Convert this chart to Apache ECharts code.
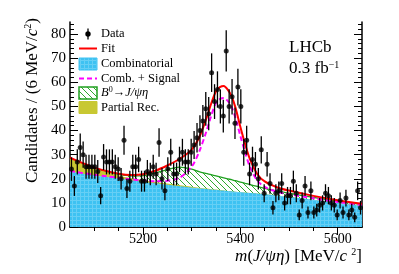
<!DOCTYPE html>
<html><head><meta charset="utf-8">
<script src="https://cdn.jsdelivr.net/npm/echarts@6/dist/echarts.min.js"></script>
<style>html,body{margin:0;padding:0;background:#fff}#c{width:399px;height:274px}</style>
</head><body><div id="c"></div>
<script>
// ---------- data ----------
const binCenters = [5053,5059,5065,5071,5077,5083,5089,5095,5101,5107,5113,5119,5125,5131,5137,5143,5149,5155,5161,5167,5173,5179,5185,5191,5197,5203,5209,5215,5221,5227,5233,5239,5245,5251,5257,5263,5269,5275,5281,5287,5293,5299,5305,5311,5317,5323,5329,5335,5341,5347,5353,5359,5365,5371,5377,5383,5389,5395,5401,5407,5413,5419,5425,5431,5437,5443,5449,5455,5461,5467,5473,5479,5485,5491,5497,5503,5509,5515,5521,5527,5533,5539,5545,5551,5557,5563,5569,5575,5581,5587,5593,5599,5605,5611,5617,5623,5629,5635,5641,5647];
const counts = [24,17,27,33,30,25,25,25,25,23, 13,29,27,27,27,25,24,20,36,16, 19,25,25,28,19,19,23,22,25,22, 35,20,15,24,31,22,22,28,31,27, 27,31,34,37,40,44,49,47,64,52, 57,50,46,73,50,54,43,58,50,31, 36,22,28,26,20,32,14,26,18,8, 14,15,18,10,13,13,19,14,5,11, 17,6,15,6,7,9,10,14,13,10, 9,5,11,6,12,5,7,4,15,8];
const fitMass = [5050,5075,5100,5125,5150,5175,5200,5225,5250,5275,5300,5315,5330,5340,5350,5358,5366,5374,5382,5390,5400,5410,5420,5435,5450,5475,5500,5550,5600,5650];
const combinatorial = [23.0,22.2,21.5,20.8,20.1,19.4,18.7,18.1,17.5,16.9,16.4,16.1,15.8,15.6,15.4,15.25,15.1,14.95,14.8,14.65,14.5,14.3,14.1,13.9,13.6,13.1,12.5,11.3,10.0,8.8];
const partialRecTop = [28.5,26.4,24.3,22.8,21.4,20.3,19.4,18.7,18.0,17.3,16.7,16.3,15.95,15.7,15.5,15.3,15.12,14.96,14.8,14.65,14.5,14.3,14.1,13.9,13.6,13.1,12.5,11.3,10.0,8.8];
const b0Top = [28.5,26.4,24.4,23.0,21.8,21.2,21.3,22.4,23.8,24.8,24.0,23.0,22.2,21.7,21.2,20.8,20.4,20.0,19.6,19.2,18.6,18.1,17.6,16.8,16.0,15.0,14.0,12.3,10.7,9.3];
const combPlusSignal = [23.2,22.4,21.7,21.0,20.4,19.8,19.3,19.0,19.2,20.4,25.0,31,39.5,46,51.5,53,53.5,52.3,49.8,45.3,37.8,30.8,24.8,19.2,16.6,14.6,13.6,11.9,10.4,9.1];
const fitTotal = [28.7,26.6,24.6,23.2,22.1,21.6,21.9,23.3,25.5,28.2,32.1,36.9,44.9,51.1,56.3,58.0,58.5,57.0,54.3,49.5,41.6,34.3,28.0,21.9,18.9,16.5,15.1,12.9,11.1,9.6];
const xTickLabels = [5200,5400,5600];
const xMinorTickValues = [5100,5150,5250,5300,5350,5450,5500,5550];
const yTickLabels = [0,10,20,30,40,50,60,70,80];

// ---------- helpers ----------
const FONT = 'Liberation Serif';
function pair(xs, ys){ return xs.map((x,i)=>[x, ys[i]]); }
function makeHatch(){
  const c=document.createElement('canvas'); c.width=6; c.height=6;
  const g=c.getContext('2d'); g.strokeStyle='#2ea82e'; g.lineWidth=1;
  g.beginPath(); g.moveTo(0,0); g.lineTo(6,6); g.moveTo(-3,3); g.lineTo(3,9); g.moveTo(3,-3); g.lineTo(9,3); g.stroke();
  return c;
}
function makeBlue(){
  const c=document.createElement('canvas'); c.width=4; c.height=4;
  const g=c.getContext('2d'); g.fillStyle='#3ec2f2'; g.fillRect(0,0,4,4);
  g.fillStyle='#66cff5'; g.fillRect(0,0,4,1); g.fillRect(0,0,1,4);
  return c;
}
const hatch = {image: makeHatch(), repeat:'repeat'};
const blue = {image: makeBlue(), repeat:'repeat'};
const yMinor = []; for(let v=2; v<85; v+=2){ if(v%10) yMinor.push(v); }

const chart = echarts.init(document.getElementById('c'), null, {renderer:'canvas'});
const baseX = {type:'value', min:5050, max:5650, splitLine:{show:false}};
const baseY = {type:'value', min:0, max:85, splitLine:{show:false}};
const frameLine = {show:true, lineStyle:{color:'#000', width:1.5}};
const tickStyle = {color:'#000', width:1};

chart.setOption({
  animation:false,
  grid:{left:70, right:37, top:22, bottom:47},
  xAxis:[
    Object.assign({}, baseX, {position:'bottom', axisLine:frameLine,
      axisTick:{show:true, inside:true, length:8, lineStyle:tickStyle, customValues:xTickLabels},
      axisLabel:{show:true, customValues:xTickLabels, formatter:(v)=>String(v), color:'#000', fontFamily:FONT, fontSize:14, margin:5}}),
    Object.assign({}, baseX, {position:'bottom', axisLine:{show:false},
      axisTick:{show:true, inside:true, length:4, lineStyle:tickStyle, customValues:xMinorTickValues},
      axisLabel:{show:false}}),
    Object.assign({}, baseX, {position:'top', axisLine:frameLine,
      axisTick:{show:true, inside:true, length:8, lineStyle:tickStyle, customValues:xTickLabels},
      axisLabel:{show:false}}),
    Object.assign({}, baseX, {position:'top', axisLine:{show:false},
      axisTick:{show:true, inside:true, length:4, lineStyle:tickStyle, customValues:xMinorTickValues},
      axisLabel:{show:false}})
  ],
  yAxis:[
    Object.assign({}, baseY, {position:'left', axisLine:frameLine,
      axisTick:{show:true, inside:true, length:8, lineStyle:tickStyle, customValues:yTickLabels},
      axisLabel:{show:true, customValues:yTickLabels, formatter:(v)=>String(v), color:'#000', fontFamily:FONT, fontSize:15, margin:4}}),
    Object.assign({}, baseY, {position:'left', axisLine:{show:false},
      axisTick:{show:true, inside:true, length:4, lineStyle:tickStyle, customValues:yMinor},
      axisLabel:{show:false}}),
    Object.assign({}, baseY, {position:'right', axisLine:frameLine,
      axisTick:{show:true, inside:true, length:8, lineStyle:tickStyle, customValues:yTickLabels},
      axisLabel:{show:false}}),
    Object.assign({}, baseY, {position:'right', axisLine:{show:false},
      axisTick:{show:true, inside:true, length:4, lineStyle:tickStyle, customValues:yMinor},
      axisLabel:{show:false}})
  ],
  series:[
    {name:'B0', type:'line', data:pair(fitMass,b0Top), smooth:0.3, symbol:'none', z:1,
      lineStyle:{color:'#1fa01f', width:1.3}, areaStyle:{color:hatch, opacity:1}},
    {name:'Partial Rec.', type:'line', data:pair(fitMass,partialRecTop), smooth:0.3, symbol:'none', z:2,
      lineStyle:{width:0}, areaStyle:{color:'#c8c832', opacity:1}},
    {name:'Combinatorial', type:'line', data:pair(fitMass,combinatorial), smooth:0.3, symbol:'none', z:3,
      lineStyle:{width:0}, areaStyle:{color:blue, opacity:1}},
    {name:'Comb. + Signal', type:'line', data:pair(fitMass,combPlusSignal), smooth:0.3, symbol:'none', z:4,
      lineStyle:{color:'#ff00ff', width:2, type:[5,3]}},
    {name:'Fit', type:'line', data:pair(fitMass,fitTotal), smooth:0.3, symbol:'none', z:5,
      lineStyle:{color:'#ff0000', width:2}},
    {name:'Errors', type:'custom', z:6,
      data: binCenters.map((m,i)=>[m, counts[i]-Math.sqrt(counts[i]), counts[i]+Math.sqrt(counts[i])]),
      encode:{x:0, y:[1,2]},
      renderItem:function(params, api){
        const a=api.coord([api.value(0), api.value(1)]);
        const b=api.coord([api.value(0), api.value(2)]);
        return {type:'line', shape:{x1:a[0],y1:a[1],x2:b[0],y2:b[1]}, style:{stroke:'#000', lineWidth:1.3}};
      }},
    {name:'Data', type:'scatter', z:7, data:pair(binCenters,counts), symbol:'circle', symbolSize:5,
      itemStyle:{color:'#000'}}
  ],
  graphic:[
    // legend
    {type:'line', shape:{x1:88,y1:28.5,x2:88,y2:39.5}, style:{stroke:'#000', lineWidth:1.3}},
    {type:'circle', shape:{cx:88,cy:34,r:2.7}, style:{fill:'#000'}},
    {type:'text', x:101, y:34, style:{text:'Data', font:'12.5px '+FONT, fill:'#000', verticalAlign:'middle'}},
    {type:'line', shape:{x1:79,y1:48.5,x2:97,y2:48.5}, style:{stroke:'#ff0000', lineWidth:2}},
    {type:'text', x:101, y:48.5, style:{text:'Fit', font:'12.5px '+FONT, fill:'#000', verticalAlign:'middle'}},
    {type:'rect', shape:{x:79,y:58,width:18,height:12}, style:{fill:blue, stroke:'#3ec2f2', lineWidth:1}},
    {type:'text', x:101, y:64, style:{text:'Combinatorial', font:'12.5px '+FONT, fill:'#000', verticalAlign:'middle'}},
    {type:'line', shape:{x1:79,y1:78.5,x2:97,y2:78.5}, style:{stroke:'#ff00ff', lineWidth:2, lineDash:[5,3]}},
    {type:'text', x:101, y:78.5, style:{text:'Comb. + Signal', font:'12.5px '+FONT, fill:'#000', verticalAlign:'middle'}},
    {type:'rect', shape:{x:79,y:87,width:18,height:12}, style:{fill:hatch, stroke:'#1fa01f', lineWidth:1.5}},
    {type:'text', x:101, y:93, style:{text:'{i|B}{sup|0}→{i|J/ψη}', fill:'#000', verticalAlign:'middle',
      font:'12.5px '+FONT,
      rich:{i:{fontFamily:FONT, fontSize:12.5, fontStyle:'italic', lineHeight:14},
            sup:{fontFamily:FONT, fontSize:8, verticalAlign:'top', lineHeight:14}}}},
    {type:'rect', shape:{x:79,y:101.5,width:18,height:12}, style:{fill:'#c8c832', stroke:'#c8c832'}},
    {type:'text', x:101, y:107.5, style:{text:'Partial Rec.', font:'12.5px '+FONT, fill:'#000', verticalAlign:'middle'}},
    // LHCb label
    {type:'text', x:289, y:48, style:{text:'LHCb', font:'17px '+FONT, fill:'#000', verticalAlign:'middle'}},
    {type:'text', x:289, y:69, style:{text:'0.3 fb{sup|−1}', font:'17px '+FONT, fill:'#000', verticalAlign:'middle',
      rich:{sup:{fontFamily:FONT, fontSize:10, verticalAlign:'top', lineHeight:18}}}},
    // axis titles
    {type:'text', x:33, y:18, rotation:Math.PI/2, style:{text:'Candidates / (6 MeV/{i|c}{sup|2})', font:'17px '+FONT, fill:'#000',
      align:'right', verticalAlign:'middle',
      rich:{i:{fontFamily:FONT, fontSize:17, fontStyle:'italic', lineHeight:19}, sup:{fontFamily:FONT, fontSize:10, verticalAlign:'top', lineHeight:19}}}},
    {type:'text', x:362, y:257, style:{text:'{i|m}({i|J/ψη}) [MeV/{i|c} {sup|2}]', font:'17px '+FONT, fill:'#000',
      align:'right', verticalAlign:'middle',
      rich:{i:{fontFamily:FONT, fontSize:17, fontStyle:'italic', lineHeight:19}, sup:{fontFamily:FONT, fontSize:10, verticalAlign:'top', lineHeight:19}}}}
  ]
});
</script></body></html>
